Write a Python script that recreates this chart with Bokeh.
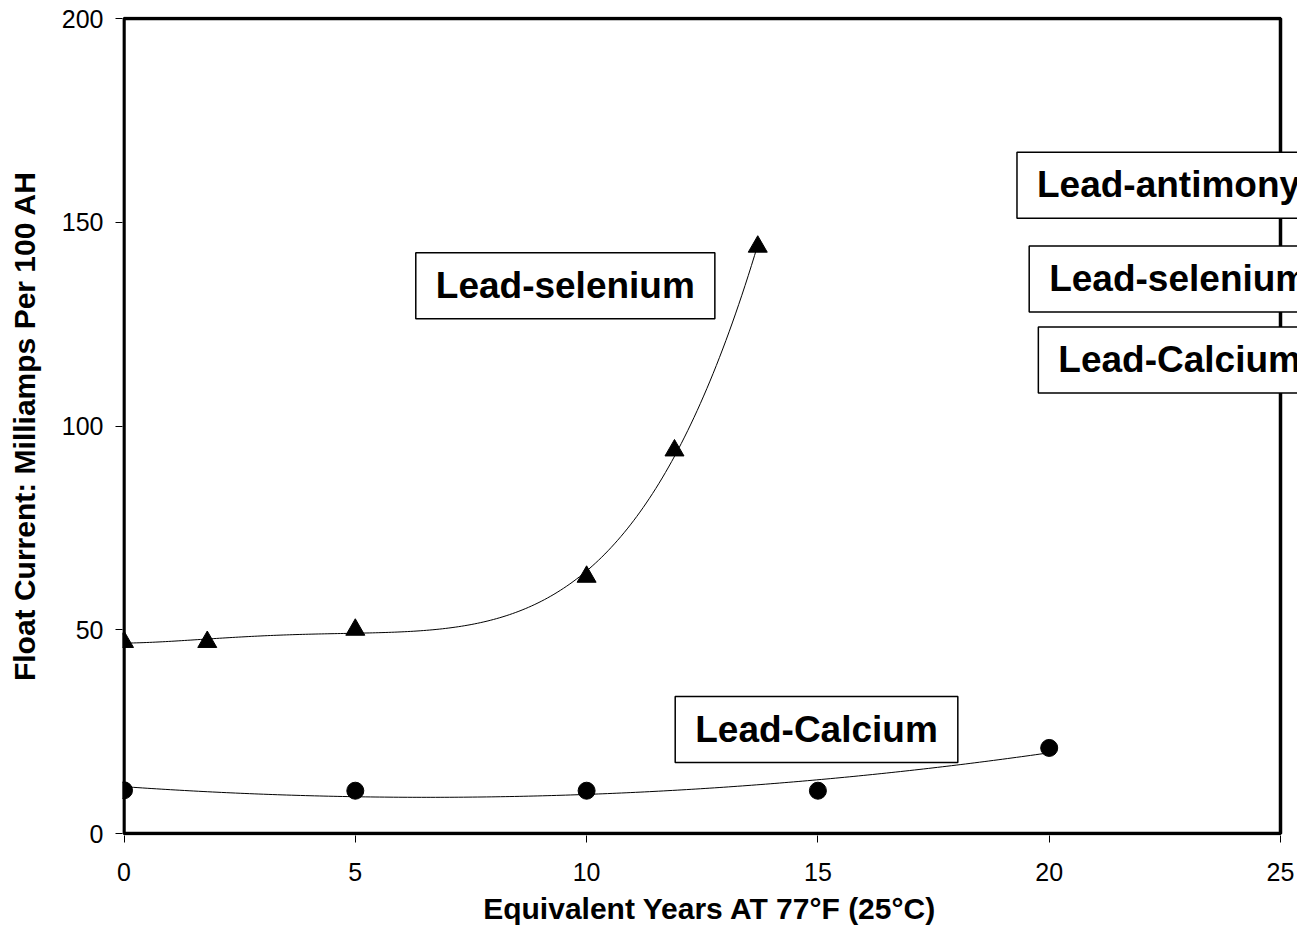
import numpy as np
from bokeh.plotting import figure
from bokeh.models import Label, FixedTicker, Range1d, BoxAnnotation
from bokeh.embed import file_html
from bokeh.resources import INLINE

# Data
se_years = [0, 1.8, 5, 10, 11.9, 13.7]
se_current = [47, 47, 50, 63, 94, 144]
ca_years = [0, 5, 10, 15, 20]
ca_current = [10.6, 10.5, 10.5, 10.5, 21]

x_ticks = [0, 5, 10, 15, 20, 25]
y_ticks = [0, 50, 100, 150, 200]

FONT = "Liberation Sans"

# Layout (pixels): plot box from x=0 at 123.5 to x=25 at 1280, y=200 at 18 to y=0 at 833
W, H = 1297, 934
X0_PX, X25_PX = 123.5, 1280.0
Y200_PX, Y0_PX = 18.0, 833.0
FL, FT, FB = 122, 16, 835
ppx = (X25_PX - X0_PX) / 25.0
ppy = (Y0_PX - Y200_PX) / 200.0
x_start = -(X0_PX - FL) / ppx
x_end = 25 + (W - X25_PX) / ppx
y_start = -(FB - Y0_PX) / ppy
y_end = 200 + (Y200_PX - FT) / ppy

p = figure(width=W, height=H, output_backend="svg", toolbar_location=None,
           x_range=Range1d(x_start, x_end), y_range=Range1d(y_start, y_end),
           min_border_left=FL, min_border_right=0, min_border_top=FT, min_border_bottom=H - FB)
p.background_fill_color = "white"
p.border_fill_color = "white"
p.grid.visible = False
p.outline_line_color = None

for ax in (p.xaxis[0], p.yaxis[0]):
    ax.axis_line_color = None
    ax.major_tick_in = 0
    ax.major_tick_out = 7
    ax.major_tick_line_width = 1
    ax.major_tick_line_color = "black"
    ax.minor_tick_line_color = None
    ax.major_label_text_font = FONT
    ax.major_label_text_font_size = "25px"
    ax.major_label_text_color = "black"
    ax.axis_label_text_font = FONT
    ax.axis_label_text_font_style = "bold"
    ax.axis_label_text_font_size = "30px"
    ax.axis_label_text_color = "black"

p.xaxis.ticker = FixedTicker(ticks=x_ticks)
p.yaxis.ticker = FixedTicker(ticks=y_ticks)
p.xaxis.axis_label = "Equivalent Years AT 77°F (25°C)"
p.yaxis.axis_label = "Float Current: Milliamps Per 100 AH"
p.xaxis.major_label_standoff = 20
p.yaxis.major_label_standoff = 12
p.xaxis.axis_label_standoff = 8
p.yaxis.axis_label_standoff = 18

# Plot-area border
p.add_layout(BoxAnnotation(left=0, right=25, bottom=0, top=200,
                           fill_color=None, fill_alpha=0,
                           line_color="black", line_alpha=1.0, line_width=3.5,
                           level="underlay"))

# Trendlines (polynomial fits of the data)
cse = np.polyfit(se_years, se_current, 4)
xs = np.linspace(min(se_years), max(se_years), 200)
p.line(xs, np.polyval(cse, xs), line_color="black", line_width=1)
cca = np.polyfit(ca_years, ca_current, 2)
xc = np.linspace(min(ca_years), max(ca_years), 200)
p.line(xc, np.polyval(cca, xc), line_color="black", line_width=1)

p.scatter(se_years, se_current, marker="triangle", size=19, color="black")
p.scatter(ca_years, ca_current, marker="circle", size=17, color="black")

def box(x, y, txt):
    p.add_layout(Label(x=x, y=y, text=txt, anchor="center",
                       text_font=FONT, text_font_style="bold", text_font_size="37px",
                       text_color="black",
                       border_line_color="black", border_line_width=1.5,
                       background_fill_color="white",
                       padding=dict(left=20, right=20, top=12, bottom=13)))

box(9.54, 134.4, "Lead-selenium")
box(14.97, 25.5, "Lead-Calcium")
box(22.58, 159.1, "Lead-antimony")
box(22.8, 136.1, "Lead-selenium")
box(22.82, 116.2, "Lead-Calcium")

open("out.html", "w").write(file_html(p, INLINE))
